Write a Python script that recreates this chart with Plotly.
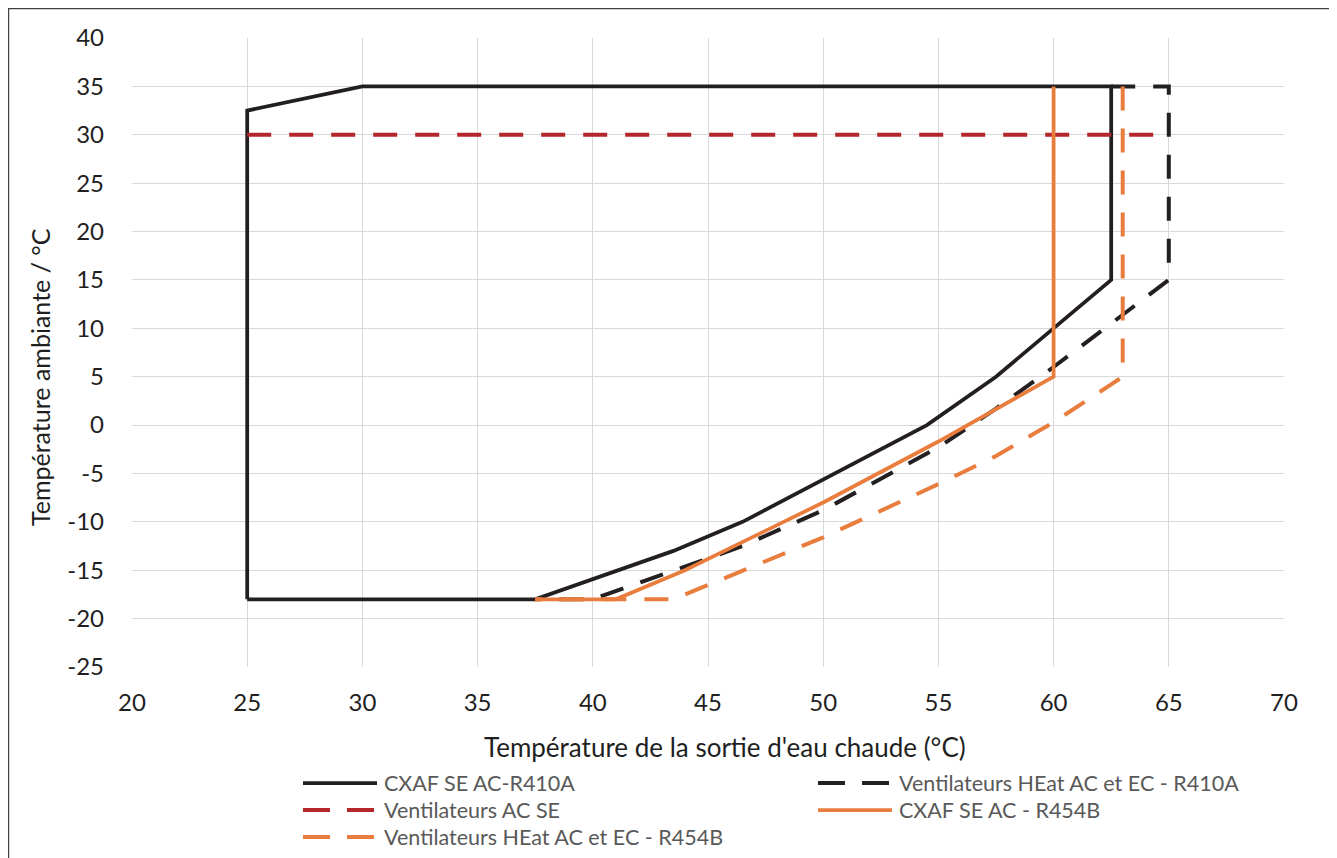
import plotly.graph_objects as go

# CXAF SE AC-R410A (black solid envelope)
cxaf_r410a_x = [25, 25, 30, 62.5, 62.5, 57.5, 54.5, 46.5, 43.5, 37.5, 25]
cxaf_r410a_y = [-18, 32.5, 35, 35, 15, 5, 0, -10, -13, -18, -18]

# Ventilateurs HEat AC et EC - R410A (black dashed)
heat_r410a_x = [62.5, 65, 65, 60, 57.5, 55, 50, 46.5, 40, 37.5]
heat_r410a_y = [35, 35, 15, 6, 1.7, -2.3, -8.8, -12.5, -18, -18]

# Ventilateurs AC SE (red dashed)
ac_se_x = [25, 65]
ac_se_y = [30, 30]

# CXAF SE AC - R454B (orange solid)
cxaf_r454b_x = [60, 60, 55, 50, 44, 41, 37.5]
cxaf_r454b_y = [35, 5, -1.7, -8, -15, -18, -18]

# Ventilateurs HEat AC et EC - R454B (orange dashed)
heat_r454b_x = [63, 63, 62.5, 60, 57.5, 55, 50, 43.5, 37.5]
heat_r454b_y = [35, 5, 4.2, 0.3, -3.2, -6.1, -11.6, -18, -18]

series_names = ["CXAF SE AC-R410A",
                "Ventilateurs HEat AC et EC - R410A",
                "Ventilateurs AC SE",
                "CXAF SE AC - R454B",
                "Ventilateurs HEat AC et EC - R454B"]

x_ticks = [20, 25, 30, 35, 40, 45, 50, 55, 60, 65, 70]
y_ticks = [40, 35, 30, 25, 20, 15, 10, 5, 0, -5, -10, -15, -20, -25]
x_title = "Température de la sortie d'eau chaude (°C)"
y_title = "Température ambiante / °C"

BLACK = "#231F20"
RED = "#B3262C"
ORANGE = "#E87D3E"
DASH = "24px,18px"
FONT = "Lato"
TXT = "#1F1F1F"

styles = [
    dict(color=BLACK, width=3.75),
    dict(color=BLACK, width=4, dash=DASH),
    dict(color=RED, width=4, dash=DASH),
    dict(color=ORANGE, width=3.75),
    dict(color=ORANGE, width=4, dash=DASH),
]
xs = [cxaf_r410a_x, heat_r410a_x, ac_se_x, cxaf_r454b_x, heat_r454b_x]
ys = [cxaf_r410a_y, heat_r410a_y, ac_se_y, cxaf_r454b_y, heat_r454b_y]

fig = go.Figure()
for name, x, y, st in zip(series_names, xs, ys, styles):
    fig.add_trace(go.Scatter(x=x, y=y, mode="lines", name=name, line=st,
                             showlegend=False))

# page has an 8px body margin; size the figure so the plot area lands right
W, H = 1329, 850
L, R, T, B = 124, 53, 30, 191
pw, ph = W - L - R, H - T - B
OFF = 8


def px_x(p):  # page pixel -> paper
    return (p - OFF - L) / pw


def px_y(p):
    return 1 - (p - OFF - T) / ph


# outer frame
fig.add_shape(type="rect", xref="paper", yref="paper",
              x0=px_x(8.6), x1=px_x(1360), y0=px_y(8.6), y1=px_y(880),
              line=dict(color="#404040", width=1.2), layer="below")

# axis titles
fig.add_annotation(xref="paper", yref="paper", x=px_x(725), y=px_y(747),
                   xanchor="center", yanchor="middle", text=x_title,
                   showarrow=False, font=dict(family=FONT, size=26, color=TXT))
fig.add_annotation(xref="paper", yref="paper", x=px_x(40), y=px_y(377),
                   xanchor="center", yanchor="middle", text=y_title,
                   textangle=-90, showarrow=False,
                   font=dict(family=FONT, size=25, color=TXT))

# legend (two columns, three rows)
leg_pos = [(303, 783), (818, 783), (303, 810), (818, 810), (303, 837)]
sample_len = 74
for name, st, (lx, ly) in zip(series_names, styles, leg_pos):
    lst = dict(st)
    if "dash" in lst:
        lst["dash"] = "27px,17px"
    fig.add_shape(type="line", xref="paper", yref="paper",
                  x0=px_x(lx), x1=px_x(lx + sample_len),
                  y0=px_y(ly), y1=px_y(ly), line=lst)
    fig.add_annotation(xref="paper", yref="paper", x=px_x(lx + sample_len + 5),
                       y=px_y(ly), xanchor="left", yanchor="middle",
                       text=name, showarrow=False,
                       font=dict(family=FONT, size=21.5, color="#595959"))

fig.update_layout(
    width=W, height=H,
    margin=dict(l=L, r=R, t=T, b=B, autoexpand=False),
    paper_bgcolor="white", plot_bgcolor="white",
    font=dict(family=FONT, color=TXT, size=24),
    xaxis=dict(range=[20, 70], tickvals=x_ticks,
               ticktext=[str(v) for v in x_ticks], showgrid=True,
               gridcolor="#D9D9D9", gridwidth=1.3, zeroline=False,
               showline=False, ticks="", ticklabelstandoff=19,
               tickfont=dict(size=24, color=TXT)),
    yaxis=dict(range=[-25, 40], tickvals=y_ticks,
               ticktext=[str(v) for v in y_ticks], showgrid=True,
               gridcolor="#D9D9D9", gridwidth=1.3, zeroline=False,
               showline=False, ticks="", ticklabelstandoff=27,
               tickfont=dict(size=24, color=TXT)),
    showlegend=False,
)

fig.write_html("out.html")
